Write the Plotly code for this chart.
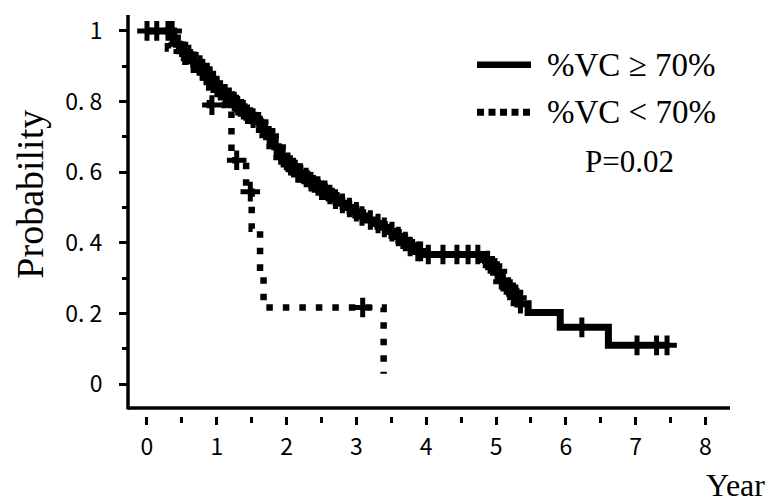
import numpy as np
import plotly.graph_objects as go

# ---- data ----
solid_t = [0, 0.38, 0.42, 0.47, 0.52, 0.57, 0.62, 0.67, 0.72, 0.77, 0.82, 0.87, 0.92, 0.97,
           1.03, 1.09, 1.15, 1.21, 1.27, 1.33, 1.40, 1.47, 1.55, 1.63, 1.68, 1.73, 1.78, 1.83,
           1.88, 1.93, 1.98, 2.05, 2.13, 2.22, 2.31, 2.40, 2.49, 2.58, 2.67, 2.76, 2.86, 2.96,
           3.06, 3.16, 3.26, 3.36, 3.46, 3.56, 3.66, 3.76, 3.86, 3.95, 4.85, 4.91, 4.97, 5.03,
           5.09, 5.15, 5.21, 5.27, 5.33, 5.46, 5.92, 6.61]
solid_s = [1.0, 0.975, 0.962, 0.952, 0.942, 0.933, 0.924, 0.914, 0.903, 0.893, 0.880, 0.866,
           0.853, 0.840, 0.831, 0.822, 0.812, 0.800, 0.788, 0.777, 0.764, 0.753, 0.743, 0.730,
           0.718, 0.703, 0.688, 0.672, 0.656, 0.641, 0.628, 0.613, 0.598, 0.585, 0.573, 0.561,
           0.549, 0.537, 0.524, 0.512, 0.500, 0.488, 0.476, 0.465, 0.455, 0.444, 0.432, 0.418,
           0.404, 0.390, 0.376, 0.367, 0.350, 0.335, 0.320, 0.305, 0.290, 0.275, 0.260, 0.245,
           0.228, 0.203, 0.161, 0.110]
solid_cens = [0.0, 0.14, 0.36, 0.30, 0.45, 0.52, 0.60, 0.68, 0.76, 0.80, 0.85, 0.90, 0.95,
              1.00, 1.05, 1.12, 1.18, 1.25, 1.30, 1.38, 1.44, 1.52, 1.60, 1.70, 1.75, 1.85,
              1.95, 2.02, 2.10, 2.16, 2.20, 2.28, 2.35, 2.45, 2.50, 2.55, 2.62, 2.70, 2.80,
              2.90, 3.00, 3.08, 3.20, 3.31, 3.40, 3.51, 3.60, 3.70, 3.77, 3.88, 3.92, 4.03,
              4.24, 4.44, 4.60, 4.74, 4.88, 4.95, 5.02, 5.10, 5.18, 5.25, 5.30, 5.35, 6.23,
              7.02, 7.30, 7.45]

dotted_t = [0, 0.30, 0.55, 0.80, 0.90, 1.21, 1.42, 1.50, 1.62, 1.67, 3.39]
dotted_s = [1.0, 0.95, 0.89, 0.84, 0.79, 0.634, 0.545, 0.44, 0.33, 0.217, 0.03]
dotted_cens = [0.93, 1.285, 1.48, 3.09]

y_ticks = [0, 0.2, 0.4, 0.6, 0.8, 1]
y_ticktext = ["0", "0. 2", "0. 4", "0. 6", "0. 8", "1"]
x_ticks = [0, 1, 2, 3, 4, 5, 6, 7, 8]

legend_labels = ["%VC \u2265 70%", "%VC < 70%"]
p_text = "P=0.02"


def surv_at(ts, ss, t):
    idx = np.searchsorted(np.array(ts), t, side="right") - 1
    return float(np.array(ss)[max(idx, 0)])


# extend solid curve to last censored time
sol_x = list(solid_t) + [max(solid_cens)]
sol_y = list(solid_s) + [solid_s[-1]]

fig = go.Figure()

fig.add_trace(go.Scatter(x=dotted_t, y=dotted_s, mode="lines", line_shape="hv",
                         line=dict(color="black", width=6.5, dash="6.5px,10px"),
                         showlegend=False, hoverinfo="skip"))
fig.add_trace(go.Scatter(x=dotted_cens, y=[surv_at(dotted_t, dotted_s, t) for t in dotted_cens],
                         mode="markers",
                         marker=dict(symbol="cross-thin", size=14, color="black",
                                     line=dict(color="black", width=5)),
                         showlegend=False, hoverinfo="skip"))
fig.add_trace(go.Scatter(x=sol_x, y=sol_y, mode="lines", line_shape="hv",
                         line=dict(color="black", width=7),
                         showlegend=False, hoverinfo="skip"))
fig.add_trace(go.Scatter(x=solid_cens, y=[surv_at(solid_t, solid_s, t) for t in solid_cens],
                         mode="markers",
                         marker=dict(symbol="cross-thin", size=14, color="black",
                                     line=dict(color="black", width=5)),
                         showlegend=False, hoverinfo="skip"))

W, H = 771, 504
L, R, T, B = 128, 730, 12, 416
fig.update_layout(
    width=W, height=H,
    margin=dict(l=L, r=W - R, t=T, b=H - B, pad=0),
    paper_bgcolor="white", plot_bgcolor="white",
    showlegend=False,
)

tick_font = dict(family="Liberation Sans Narrow, Arial Narrow, Noto Sans CJK JP", size=23,
                 color="black")
fig.update_xaxes(range=[-0.272, 8.352], showgrid=False, zeroline=False, showline=False,
                 tickmode="array", tickvals=x_ticks, ticktext=[str(v) for v in x_ticks],
                 ticks="outside", ticklen=8, tickwidth=3, tickcolor="black",
                 tickfont=tick_font, ticklabelstandoff=2,
                 minor=dict(dtick=0.5, tick0=0, ticks="outside", ticklen=6, tickwidth=3,
                            tickcolor="black"))
fig.update_yaxes(range=[-0.0899, 1.045], showgrid=False, zeroline=False, showline=False,
                 tickmode="array", tickvals=y_ticks, ticktext=y_ticktext,
                 ticks="outside", ticklen=8, tickwidth=3, tickcolor="black",
                 tickfont=tick_font, ticklabelstandoff=12,
                 minor=dict(dtick=0.1, tick0=0, ticks="outside", ticklen=5, tickwidth=3,
                            tickcolor="black"))


def px_x(px):
    return (px - L) / (R - L)


def px_y(py):
    return (B - py) / (B - T)


# axis lines
fig.add_shape(type="line", xref="paper", yref="paper", x0=0, x1=1,
              y0=px_y(408), y1=px_y(408), line=dict(color="black", width=3.5))
fig.add_shape(type="line", xref="paper", yref="paper", x0=0, x1=0,
              y0=px_y(409.5), y1=1, line=dict(color="black", width=3.5))

# legend
serif = "Liberation Serif, Times New Roman, serif"
fig.add_shape(type="line", xref="paper", yref="paper", x0=px_x(477), x1=px_x(531),
              y0=px_y(62), y1=px_y(62), line=dict(color="black", width=6.5))
fig.add_shape(type="line", xref="paper", yref="paper", x0=px_x(477), x1=px_x(531),
              y0=px_y(110), y1=px_y(110), line=dict(color="black", width=7, dash="7px,4.5px"))
for lab, py in zip(legend_labels, [62, 110]):
    fig.add_annotation(text=lab, xref="paper", yref="paper", x=px_x(545), y=px_y(py),
                       xanchor="left", yanchor="middle", showarrow=False,
                       font=dict(family=serif, size=33, color="black"))
fig.add_annotation(text=p_text, xref="paper", yref="paper", x=px_x(629), y=px_y(160),
                   xanchor="center", yanchor="middle", showarrow=False,
                   font=dict(family=serif, size=31, color="black"))

# axis titles
fig.add_annotation(text="Probability", xref="paper", yref="paper", x=px_x(30), y=px_y(193),
                   xanchor="center", yanchor="middle", showarrow=False, textangle=-90,
                   font=dict(family=serif, size=38, color="black"))
fig.add_annotation(text="Year", xref="paper", yref="paper", x=px_x(735), y=px_y(486),
                   xanchor="center", yanchor="middle", showarrow=False,
                   font=dict(family=serif, size=32, color="black"))

fig.write_html("out.html")
